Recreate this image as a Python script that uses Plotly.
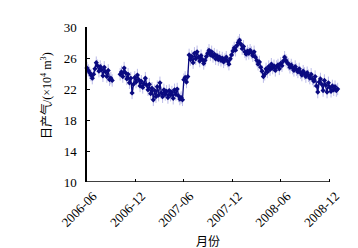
import pandas as pd
import plotly.graph_objects as go

start_date = "2006-06-01"
step = "5D"
gas_values = [
    24.7, 24.4, 24.1, 23.8, 23.4, 23.9, 24.6, 25.4, 25.0, 24.3,
    24.9, 24.5, 23.7, 24.8, 24.2, 23.6, 24.4, 23.2, 23.4, 23.1,
    None, None, None, None, None, 23.9, 24.2, 23.6, 24.7, 24.1,
    23.3, 23.9, 22.8, 23.4, 21.5, 22.6, 23.5, 22.9, 23.8, 23.2,
    22.4, 23.0, 22.2, 22.7, 23.4, 22.5, 21.9, 22.6, 21.4, 22.1,
    20.6, 21.8, 21.0, 22.3, 21.2, 22.8, 21.5, 21.0, 21.9, 21.3,
    21.7, 20.9, 21.8, 21.2, 21.6, 20.8, 21.9, 21.3, 22.0, 21.1,
    20.7, 20.9, 20.6, 23.2, 23.5, 22.9, 23.6, 26.4, 25.8, 26.2,
    25.4, 26.6, 25.9, 26.8, 26.1, 25.6, 26.3, 25.8, 25.3, 25.7,
    26.2, 26.6, 27.0, 26.4, 26.8, 26.2, 26.5, 25.9, 26.3, 25.8,
    26.1, 25.7, 26.0, 25.5, 25.8, 26.1, 25.6, 25.2, 25.9, 26.4,
    26.9, 27.3, 27.0, 27.6, 28.0, 28.3, 27.8, 27.2, 27.5, 26.8,
    26.5, 26.9, 26.6, 27.0, 26.7, 26.3, 26.8, 26.1, 25.7, 25.2,
    25.5, 24.8, 24.3, 23.6, 23.9, 24.6, 24.2, 24.9, 24.5, 25.2,
    24.7, 25.0, 24.4, 24.9, 25.1, 24.6, 25.3, 25.0, 25.6, 26.1,
    25.7, 25.4, 25.2, 24.8, 25.1, 24.7, 24.4, 24.9, 24.5, 24.2,
    24.6, 24.1, 23.8, 24.3, 24.0, 23.6, 24.1, 23.7, 23.4, 23.9,
    23.3, 23.0, 23.6, 22.4, 21.6, 22.9, 23.3, 22.6, 21.8, 23.1,
    22.5, 21.6, 22.8, 22.2, 21.7, 22.4, 21.9, 22.3, 21.8, 22.0,
]
tick_dates = ["2006-06-01", "2006-12-01", "2007-06-01", "2007-12-01", "2008-06-01", "2008-12-01"]
tick_labels = ["2006-06", "2006-12", "2007-06", "2007-12", "2008-06", "2008-12"]
y_ticks = [10, 14, 18, 22, 26, 30]

dates = pd.date_range(start_date, periods=len(gas_values), freq=step)

navy = "#0a0a80"
serif = "Liberation Serif, Times New Roman, serif"
cjk = "Liberation Serif, Noto Sans CJK SC, serif"

fig = go.Figure()
fig.add_trace(go.Scatter(
    x=dates, y=gas_values, mode="lines+markers",
    line=dict(color=navy, width=1.3),
    marker=dict(color=navy, size=4, symbol="diamond"),
    error_y=dict(type="constant", value=0.8, color="rgba(60,60,190,0.35)",
                 thickness=1, width=0),
    cliponaxis=False, connectgaps=False, showlegend=False,
))

fig.add_shape(type="line", xref="x", yref="y",
              x0=tick_dates[0], x1=tick_dates[-1], y0=10, y1=10,
              line=dict(color="black", width=1.5))

fig.update_layout(
    width=358, height=248,
    margin=dict(l=79, r=27, t=13, b=74),
    plot_bgcolor="white", paper_bgcolor="white",
    font=dict(family=serif, size=12, color="black"),
    xaxis=dict(
        range=["2006-06-01", "2009-01-06"],
        tickmode="array", tickvals=tick_dates, ticktext=tick_labels,
        tickangle=-45, ticks="inside", ticklen=3, tickcolor="black",
        ticklabelshift=6, ticklabelstandoff=3,
        showline=False, showgrid=False, zeroline=False,
        tickfont=dict(family=serif, size=13),
    ),
    yaxis=dict(
        range=[10, 30], tickmode="array", tickvals=y_ticks,
        ticks="inside", ticklen=3, tickcolor="black",
        ticklabelstandoff=6,
        showline=True, linecolor="black", linewidth=1.5,
        showgrid=False, zeroline=False,
        tickfont=dict(family=serif, size=13),
    ),
    annotations=[
        dict(text="日产气/(×10<sup>4</sup> m<sup>3</sup>)", xref="paper", yref="paper",
             x=-0.163, y=0.56, xanchor="center", yanchor="middle", textangle=-90,
             showarrow=False, font=dict(family=cjk, size=12)),
        dict(text="月份", xref="paper", yref="paper",
             x=0.48, y=-0.39, xanchor="center", yanchor="middle",
             showarrow=False, font=dict(family=cjk, size=12)),
    ],
)

fig.write_html("out.html")
